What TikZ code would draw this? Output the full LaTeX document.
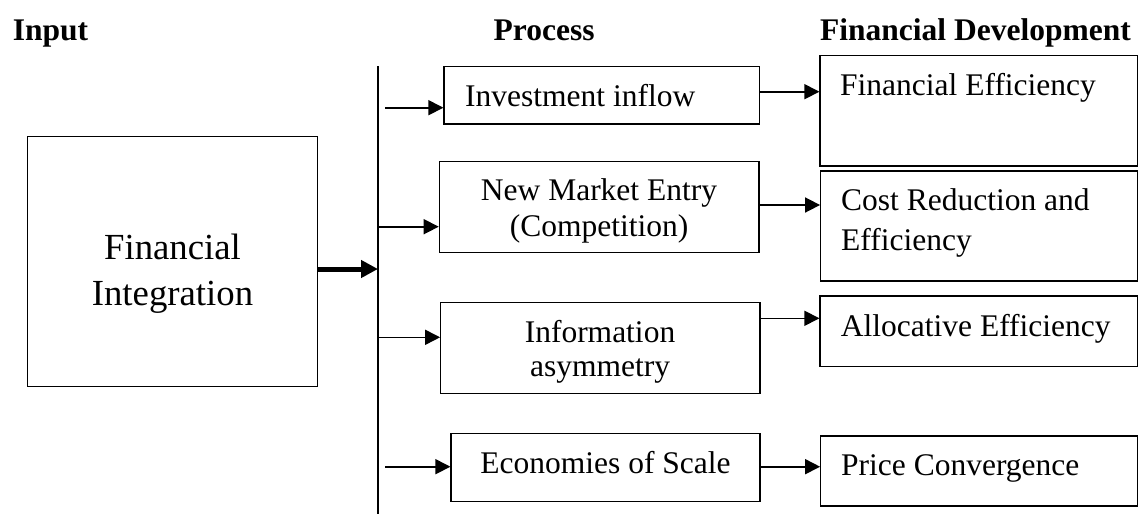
\documentclass[tikz,border=0pt]{standalone}
\usepackage{fontspec}
\setmainfont{Liberation Serif}
\usetikzlibrary{arrows.meta,fit}
\begin{document}
\begin{tikzpicture}[x=1pt,y=-1pt,
  box/.style={draw, line width=1.2pt, inner sep=0pt},
  txt/.style={inner sep=0pt, font=\fontsize{31.5}{36}\selectfont},
  bigtxt/.style={inner sep=0pt, font=\fontsize{36.75}{42}\selectfont},
  hdr/.style={inner sep=0pt, font=\fontsize{31.5}{36}\selectfont\bfseries},
  arr/.style={line width=1.6pt, -{Triangle[length=15pt,width=15pt]}},
  bigarr/.style={line width=5pt, -{Triangle[length=17pt,width=17pt]}}]
\useasboundingbox (0,0) rectangle (1139,514);

% column headings
\node[hdr, anchor=base west] (hin)  at (12.7,40) {Input};
\node[hdr, anchor=base west] (hpr)  at (493.5,40) {Process};
\node[hdr, anchor=base west] (hfd)  at (820,40) {Financial Development};

% input box
\node[box, fit={(27.7,136.7) (317.3,386.7)}] (fi) {};
\node[bigtxt, anchor=base] (fit1) at (172.5,259.3) {Financial};
\node[bigtxt, anchor=base] (fit2) at (172.5,305) {Integration};

% process boxes
\node[box, fit={(444,66.7) (759.3,124)}]   (inv)  {};
\node[box, fit={(439.3,161.7) (759,252.3)}] (nme) {};
\node[box, fit={(440.7,302.3) (760,393.3)}] (info) {};
\node[box, fit={(451,433.3) (760,501.7)}]   (eos)  {};

\node[txt, anchor=base west] (tinv)  at (465,106.7) {Investment inflow};
\node[txt, anchor=base] (tnme1) at (599,200.7) {New Market Entry};
\node[txt, anchor=base] (tnme2) at (599,236.7) {(Competition)};
\node[txt, anchor=base] (tinf1) at (600,342.3) {Information};
\node[txt, anchor=base] (tinf2) at (600,376.7) {asymmetry};
\node[txt, anchor=base] (teos)  at (605.5,473.3) {Economies of Scale};

% outcome boxes
\node[box, fit={(820,55.7) (1137.3,166)}]  (fe)  {};
\node[box, fit={(820.7,171) (1137.6,281)}] (crd) {};
\node[box, fit={(820,296) (1137.6,366.7)}] (ae)  {};
\node[box, fit={(820.7,436) (1137.6,506)}] (pc)  {};

\node[txt, anchor=base west] (tfe)   at (840,95) {Financial Efficiency};
\node[txt, anchor=base west] (tcrd1) at (841,210) {Cost Reduction and};
\node[txt, anchor=base west] (tcrd2) at (841,250.7) {Efficiency};
\node[txt, anchor=base west] (tae)   at (840.7,336.7) {Allocative Efficiency};
\node[txt, anchor=base west] (tpc)   at (841,475) {Price Convergence};

% distribution bar
\coordinate (bartop) at (378,66);
\coordinate (barbot) at (378,514);
\draw[line width=2pt] (bartop) -- (barbot);

% input into the bar
\coordinate (join) at (378,269);
\draw[bigarr] (fi.east |- join) -- (join);

% bar to process boxes
\coordinate (s1) at (385,107.7);
\coordinate (s2) at (378,226.7);
\coordinate (s3) at (378,337.3);
\coordinate (s4) at (385,466.7);
\draw[arr] (s1) -- (inv.west |- s1);
\draw[arr] (s2) -- (nme.west |- s2);
\draw[arr] (s3) -- (info.west |- s3);
\draw[arr] (s4) -- (eos.west |- s4);

% process boxes to outcomes
\coordinate (r1) at (0,91.7);
\coordinate (r2) at (0,205);
\coordinate (r3) at (0,318.3);
\coordinate (r4) at (0,466.7);
\draw[arr] (inv.east |- r1)  -- (fe.west |- r1);
\draw[arr] (nme.east |- r2)  -- (crd.west |- r2);
\draw[arr] (info.east |- r3) -- (ae.west |- r3);
\draw[arr] (eos.east |- r4)  -- (pc.west |- r4);
\end{tikzpicture}
\end{document}
